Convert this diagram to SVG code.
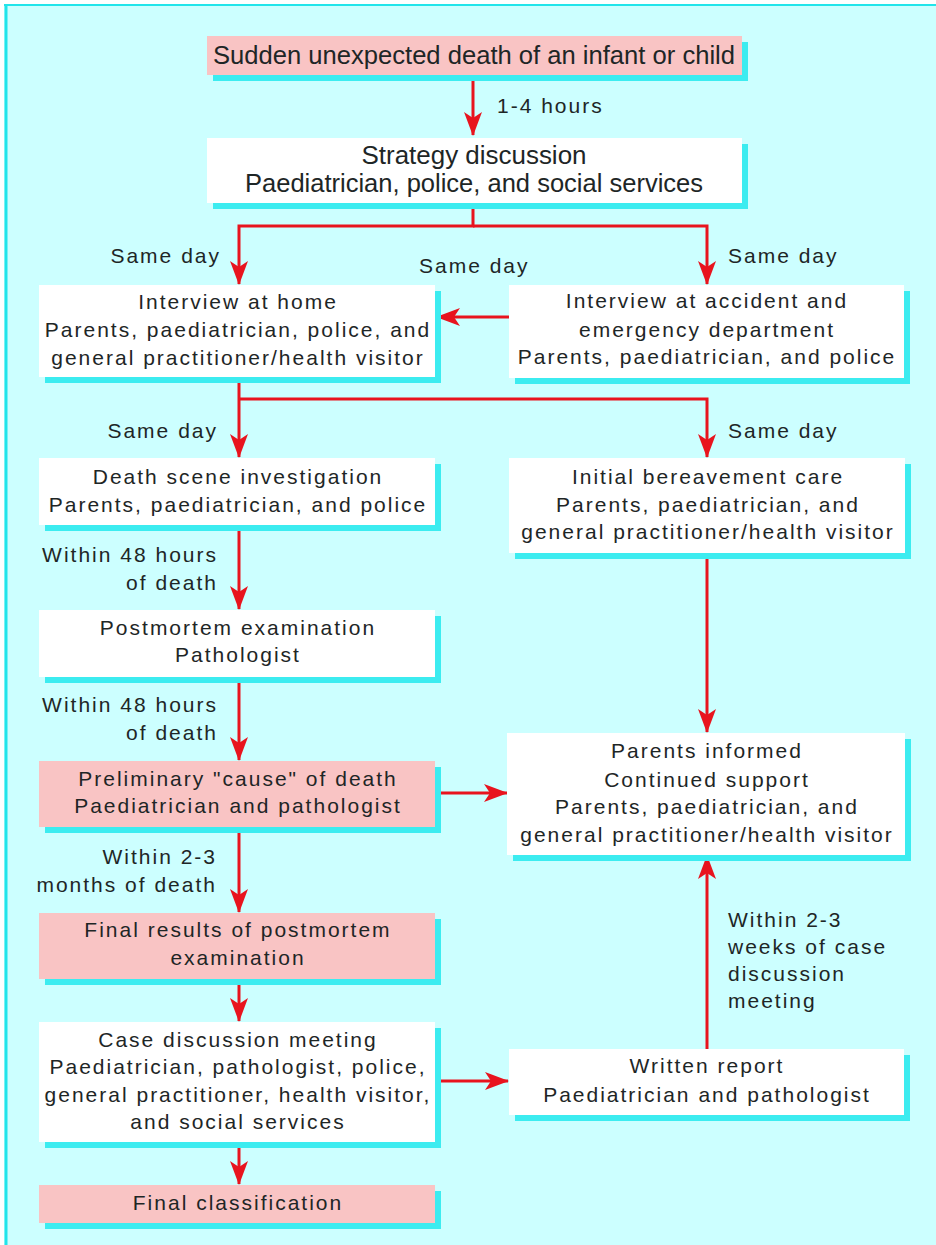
<svg xmlns="http://www.w3.org/2000/svg" width="936" height="1245" viewBox="0 0 936 1245">
<style>
.bg{fill:#ccffff}
.sh{fill:#3cecf0}
.w{fill:#ffffff}
.p{fill:#f9c4c4}
text{font-family:"Liberation Sans",Arial,sans-serif;font-size:21px;letter-spacing:2px;fill:#1e2626}
text.t{font-size:26px;letter-spacing:0}
.c{text-anchor:middle}
.e{text-anchor:end}
.s{text-anchor:start}
.ln{fill:none;stroke:#e8141e;stroke-width:3}
</style>
<defs>
<marker id="ah" viewBox="0 0 24 18" refX="23" refY="9" markerWidth="24" markerHeight="18" markerUnits="userSpaceOnUse" orient="auto">
<path d="M0,0 L24,9 L0,18 L6,9 Z" fill="#e8141e"/>
</marker>
</defs>
<rect x="0" y="0" width="936" height="1245" fill="#ffffff"/>
<rect x="4" y="4" width="932" height="1241" class="bg"/>
<line x1="4" y1="5" x2="936" y2="5" stroke="#22e4ea" stroke-width="2"/>
<line x1="6" y1="4" x2="6" y2="1245" stroke="#22e4ea" stroke-width="3"/>

<g id="connectors">
<path class="ln" d="M473,75 V135" marker-end="url(#ah)"/>
<path class="ln" d="M473,203 V226 H239 V284" marker-end="url(#ah)"/>
<path class="ln" d="M473,226 H707 V284" marker-end="url(#ah)"/>
<path class="ln" d="M509,317 H437" marker-end="url(#ah)"/>
<path class="ln" d="M239,377 V457" marker-end="url(#ah)"/>
<path class="ln" d="M239,399 H707 V457" marker-end="url(#ah)"/>
<path class="ln" d="M239,525 V609" marker-end="url(#ah)"/>
<path class="ln" d="M707,553 V732" marker-end="url(#ah)"/>
<path class="ln" d="M239,677 V760" marker-end="url(#ah)"/>
<path class="ln" d="M437,793 H507" marker-end="url(#ah)"/>
<path class="ln" d="M239,827 V912" marker-end="url(#ah)"/>
<path class="ln" d="M239,979 V1021" marker-end="url(#ah)"/>
<path class="ln" d="M436,1081 H508" marker-end="url(#ah)"/>
<path class="ln" d="M707,1049 V856" marker-end="url(#ah)"/>
<path class="ln" d="M239,1142 V1184" marker-end="url(#ah)"/>
</g>

<g id="labels">
<text class="s" x="497" y="113">1-4 hours</text>
<text class="e" x="221" y="263">Same day</text>
<text class="s" x="419" y="273">Same day</text>
<text class="s" x="728" y="263">Same day</text>
<text class="e" x="218" y="438">Same day</text>
<text class="s" x="728" y="438">Same day</text>
<text class="e" x="218" y="562">Within 48 hours</text>
<text class="e" x="218" y="590">of death</text>
<text class="e" x="218" y="712">Within 48 hours</text>
<text class="e" x="218" y="740">of death</text>
<text class="e" x="217" y="864">Within 2-3</text>
<text class="e" x="217" y="892">months of death</text>
<text class="s" x="728" y="927">Within 2-3</text>
<text class="s" x="728" y="954">weeks of case</text>
<text class="s" x="728" y="981">discussion</text>
<text class="s" x="728" y="1008">meeting</text>
</g>

<g id="n1">
<rect class="sh" x="213" y="42" width="535" height="39"/>
<rect class="p" x="207" y="36" width="535" height="39"/>
<text class="c t" x="474" y="64" textLength="522" lengthAdjust="spacingAndGlyphs">Sudden unexpected death of an infant or child</text>
</g>
<g id="n2">
<rect class="sh" x="213" y="144" width="535" height="65"/>
<rect class="w" x="207" y="138" width="535" height="65"/>
<text class="c t" x="474" y="164" textLength="225" lengthAdjust="spacingAndGlyphs">Strategy discussion</text>
<text class="c t" x="474" y="192" textLength="458" lengthAdjust="spacingAndGlyphs">Paediatrician, police, and social services</text>
</g>
<g id="n3">
<rect class="sh" x="45" y="291" width="396" height="92"/>
<rect class="w" x="39" y="285" width="396" height="92"/>
<text class="c" x="238" y="309">Interview at home</text>
<text class="c" x="238" y="337">Parents, paediatrician, police, and</text>
<text class="c" x="238" y="365">general practitioner/health visitor</text>
</g>
<g id="n4">
<rect class="sh" x="515" y="291" width="395" height="93"/>
<rect class="w" x="509" y="285" width="395" height="93"/>
<text class="c" x="707" y="308">Interview at accident and</text>
<text class="c" x="707" y="337">emergency department</text>
<text class="c" x="707" y="364">Parents, paediatrician, and police</text>
</g>
<g id="n5">
<rect class="sh" x="45" y="464" width="396" height="67"/>
<rect class="w" x="39" y="458" width="396" height="67"/>
<text class="c" x="238" y="484">Death scene investigation</text>
<text class="c" x="238" y="512">Parents, paediatrician, and police</text>
</g>
<g id="n6">
<rect class="sh" x="515" y="464" width="396" height="95"/>
<rect class="w" x="509" y="458" width="396" height="95"/>
<text class="c" x="708" y="484">Initial bereavement care</text>
<text class="c" x="708" y="512">Parents, paediatrician, and</text>
<text class="c" x="708" y="539">general practitioner/health visitor</text>
</g>
<g id="n7">
<rect class="sh" x="45" y="616" width="396" height="67"/>
<rect class="w" x="39" y="610" width="396" height="67"/>
<text class="c" x="238" y="635">Postmortem examination</text>
<text class="c" x="238" y="662">Pathologist</text>
</g>
<g id="n8">
<rect class="sh" x="45" y="767" width="396" height="66"/>
<rect class="p" x="39" y="761" width="396" height="66"/>
<text class="c" x="238" y="786">Preliminary "cause" of death</text>
<text class="c" x="238" y="813">Paediatrician and pathologist</text>
</g>
<g id="n9">
<rect class="sh" x="513" y="739" width="398" height="122"/>
<rect class="w" x="507" y="733" width="398" height="122"/>
<text class="c" x="707" y="758">Parents informed</text>
<text class="c" x="707" y="787">Continued support</text>
<text class="c" x="707" y="814">Parents, paediatrician, and</text>
<text class="c" x="707" y="842">general practitioner/health visitor</text>
</g>
<g id="n10">
<rect class="sh" x="45" y="919" width="396" height="66"/>
<rect class="p" x="39" y="913" width="396" height="66"/>
<text class="c" x="238" y="937">Final results of postmortem</text>
<text class="c" x="238" y="965">examination</text>
</g>
<g id="n11">
<rect class="sh" x="45" y="1028" width="396" height="120"/>
<rect class="w" x="39" y="1022" width="396" height="120"/>
<text class="c" x="238" y="1047">Case discussion meeting</text>
<text class="c" x="238" y="1074">Paediatrician, pathologist, police,</text>
<text class="c" x="238" y="1102">general practitioner, health visitor,</text>
<text class="c" x="238" y="1129">and social services</text>
</g>
<g id="n12">
<rect class="sh" x="515" y="1055" width="395" height="66"/>
<rect class="w" x="509" y="1049" width="395" height="66"/>
<text class="c" x="707" y="1073">Written report</text>
<text class="c" x="707" y="1102">Paediatrician and pathologist</text>
</g>
<g id="n13">
<rect class="sh" x="45" y="1191" width="396" height="38"/>
<rect class="p" x="39" y="1185" width="396" height="38"/>
<text class="c" x="238" y="1210">Final classification</text>
</g>
</svg>
